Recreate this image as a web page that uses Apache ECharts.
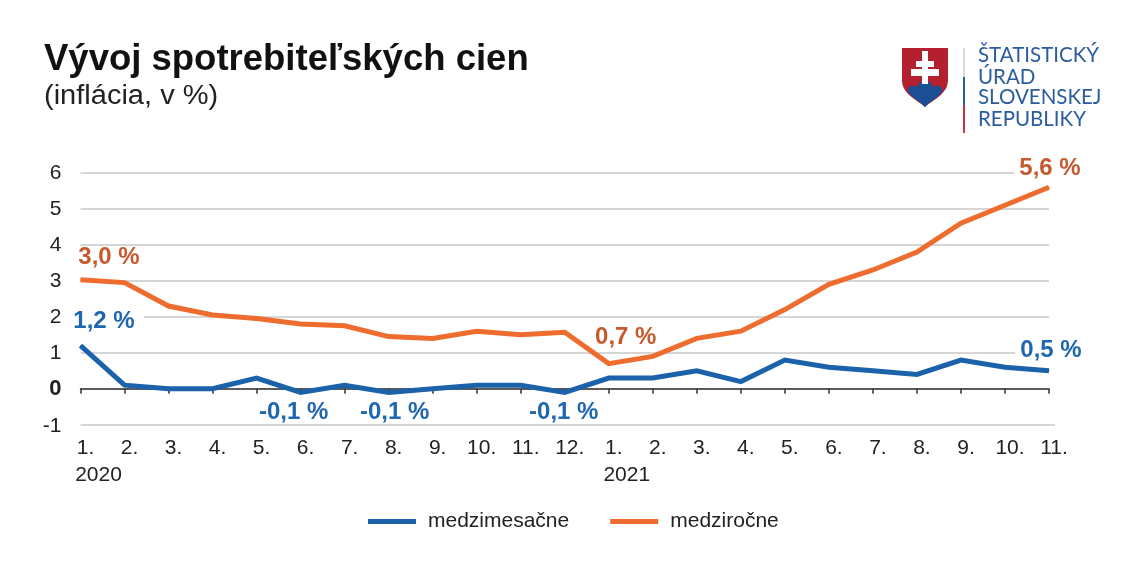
<!DOCTYPE html>
<html><head><meta charset="utf-8">
<script src="https://cdn.jsdelivr.net/npm/echarts@6/dist/echarts.min.js"></script>
<style>html,body{margin:0;background:#fff}#c{width:1146px;height:573px}</style></head>
<body><div id="c"></div>
<script>
const months = ['1.','2.','3.','4.','5.','6.','7.','8.','9.','10.','11.','12.','1.','2.','3.','4.','5.','6.','7.','8.','9.','10.','11.'];
const years = ['2020','','','','','','','','','','','','2021','','','','','','','','','',''];
const mm = [1.2,0.1,0,0,0.3,-0.1,0.1,-0.1,0,0.1,0.1,-0.1,0.3,0.3,0.5,0.2,0.8,0.6,0.5,0.4,0.8,0.6,0.5];
const yy = [3.03,2.95,2.3,2.05,1.95,1.8,1.75,1.45,1.4,1.6,1.5,1.57,0.7,0.9,1.4,1.6,2.2,2.9,3.3,3.8,4.6,5.1,5.6];
const names = ['medzimesačne','medziročne'];
const title = 'Vývoj spotrebiteľských cien';
const subtitle = '(inflácia, v %)';
const logoLines = ['ŠTATISTICKÝ','ÚRAD','SLOVENSKEJ','REPUBLIKY'];
const mmLabels = {0:['1,2 %',28,-24,[0,9,0,0]],5:['-0,1 %',-7,20,0],7:['-0,1 %',6,20,0],11:['-0,1 %',-1,20,0],22:['0,5 %',2,-20.6,[0,5,0,5]]};
const yyLabels = {0:['3,0 %',31,-22,[0,5,0,0]],12:['0,7 %',17,-26,0],22:['5,6 %',1,-18.4,[0,5,0,5]]};
const FONT = '"Liberation Sans", Arial, sans-serif';
function build(vals, labs, color){
  return vals.map((v,i)=> labs[i] ? {value:v, label:{show:true, formatter:labs[i][0], position:'inside', align:'center', verticalAlign:'middle',
    offset:[labs[i][1],labs[i][2]], color, fontFamily:FONT, fontWeight:'bold', fontSize:24, lineHeight:22, backgroundColor:'#fff', padding:labs[i][3]}} : v);
}
echarts.graphic.registerShape('logoShield', echarts.graphic.extendPath('M0 0H46V32C46 46 32 51 23 59C14 51 0 46 0 32Z'));
echarts.graphic.registerShape('logoMount', echarts.graphic.extendPath('M6 44C5 39 10 36 15 39C16 35 20 33 23 33C26 33 30 35 31 39C36 36 41 39 40 44C36 50 28 53 23 59C18 53 10 50 6 44Z'));
echarts.graphic.registerShape('logoCross', echarts.graphic.extendPath('M20 3H26V13H32V19H26V21H37V28H26V36H20V28H9V21H20V19H14V13H20Z'));
const chart = echarts.init(document.getElementById('c'), null, {renderer:'canvas'});
const logoText = logoLines.map((t,i)=>({type:'text',left:978,top:[45,67,87,109][i],style:{text:t,fill:'#2b5c9e',font:'20.5px Lato, "Open Sans", sans-serif'}}));
chart.setOption({
  animation:false,
  backgroundColor:'#fff',
  title:[{text:title,left:39,top:36,textStyle:{fontFamily:FONT,fontWeight:'bold',fontSize:36.5,color:'#111'}}],
  legend:{data:names.map(n=>({name:n,icon:'rect'})),left:363,top:506,itemWidth:48,itemHeight:5,itemGap:41,
    textStyle:{fontFamily:FONT,fontSize:21,color:'#222',padding:[0,0,0,7]}},
  grid:{left:80.5,right:97,top:172.8,bottom:148.2},
  xAxis:[
    {type:'category',data:months,boundaryGap:false,axisLine:{onZero:true,lineStyle:{color:'#333',width:1.5}},
     axisTick:{show:true,length:5,inside:false,alignWithLabel:true,interval:0,lineStyle:{color:'#333',width:1.5}},axisLabel:{show:false},splitLine:{show:false}},
    {type:'category',data:months,boundaryGap:false,position:'bottom',axisLine:{onZero:false,show:false},axisTick:{show:false},
     axisLabel:{show:true,interval:0,margin:13,color:'#222',fontFamily:FONT,fontSize:21,padding:[0,0,0,10]}},
    {type:'category',data:years,boundaryGap:false,position:'bottom',offset:27,axisLine:{onZero:false,show:false},axisTick:{show:false},
     axisLabel:{show:true,interval:0,margin:13,color:'#222',fontFamily:FONT,fontSize:21,padding:[0,0,0,36],hideOverlap:false}}
  ],
  yAxis:{type:'value',min:-1,max:6,interval:1,axisLine:{show:false},axisTick:{show:false},
    splitLine:{lineStyle:{color:'#c9c9c9',width:1.5}},
    axisLabel:{margin:19,color:'#222',fontFamily:FONT,fontSize:21,
      formatter:v=>v===0?'{b|0}':v===-1?'{n|-1}':String(v),
      rich:{b:{fontWeight:'bold',fontSize:22,fontFamily:FONT,color:'#222'},n:{fontSize:21,fontFamily:FONT,color:'#222',padding:[3,0,0,0]}}}},
  series:[
    {name:names[0],type:'line',data:build(mm,mmLabels,'#1f67b0'),color:'#1b62aa',symbol:'circle',symbolSize:1,showAllSymbol:true,lineStyle:{width:5,join:'miter'},z:4},
    {name:names[1],type:'line',data:build(yy,yyLabels,'#c65a2e'),color:'#ee6c2e',symbol:'circle',symbolSize:1,showAllSymbol:true,lineStyle:{width:5,join:'miter'},z:3}
  ],
  graphic:[
    {type:'text',x:44,y:83,scaleX:1.075,style:{text:subtitle,fill:'#222',font:'27px "Liberation Sans", Arial, sans-serif'}},
    {type:'rect',shape:{x:1049,y:424.2,width:6,height:1.5},style:{fill:'#c9c9c9'}},
    {type:'group',x:902,y:48,children:[
      {type:'logoShield',style:{fill:'#b5202f'}},
      {type:'logoMount',style:{fill:'#1b4f94'}},
      {type:'logoCross',style:{fill:'#fff'}}
    ]},
    {type:'rect',shape:{x:963,y:48,width:2,height:29},style:{fill:'#d9d9d9'}},
    {type:'rect',shape:{x:963,y:77,width:2,height:28},style:{fill:'#2b5c9e'}},
    {type:'rect',shape:{x:963,y:105,width:2,height:28},style:{fill:'#c8353f'}},
    ...logoText
  ]
});
</script></body></html>
